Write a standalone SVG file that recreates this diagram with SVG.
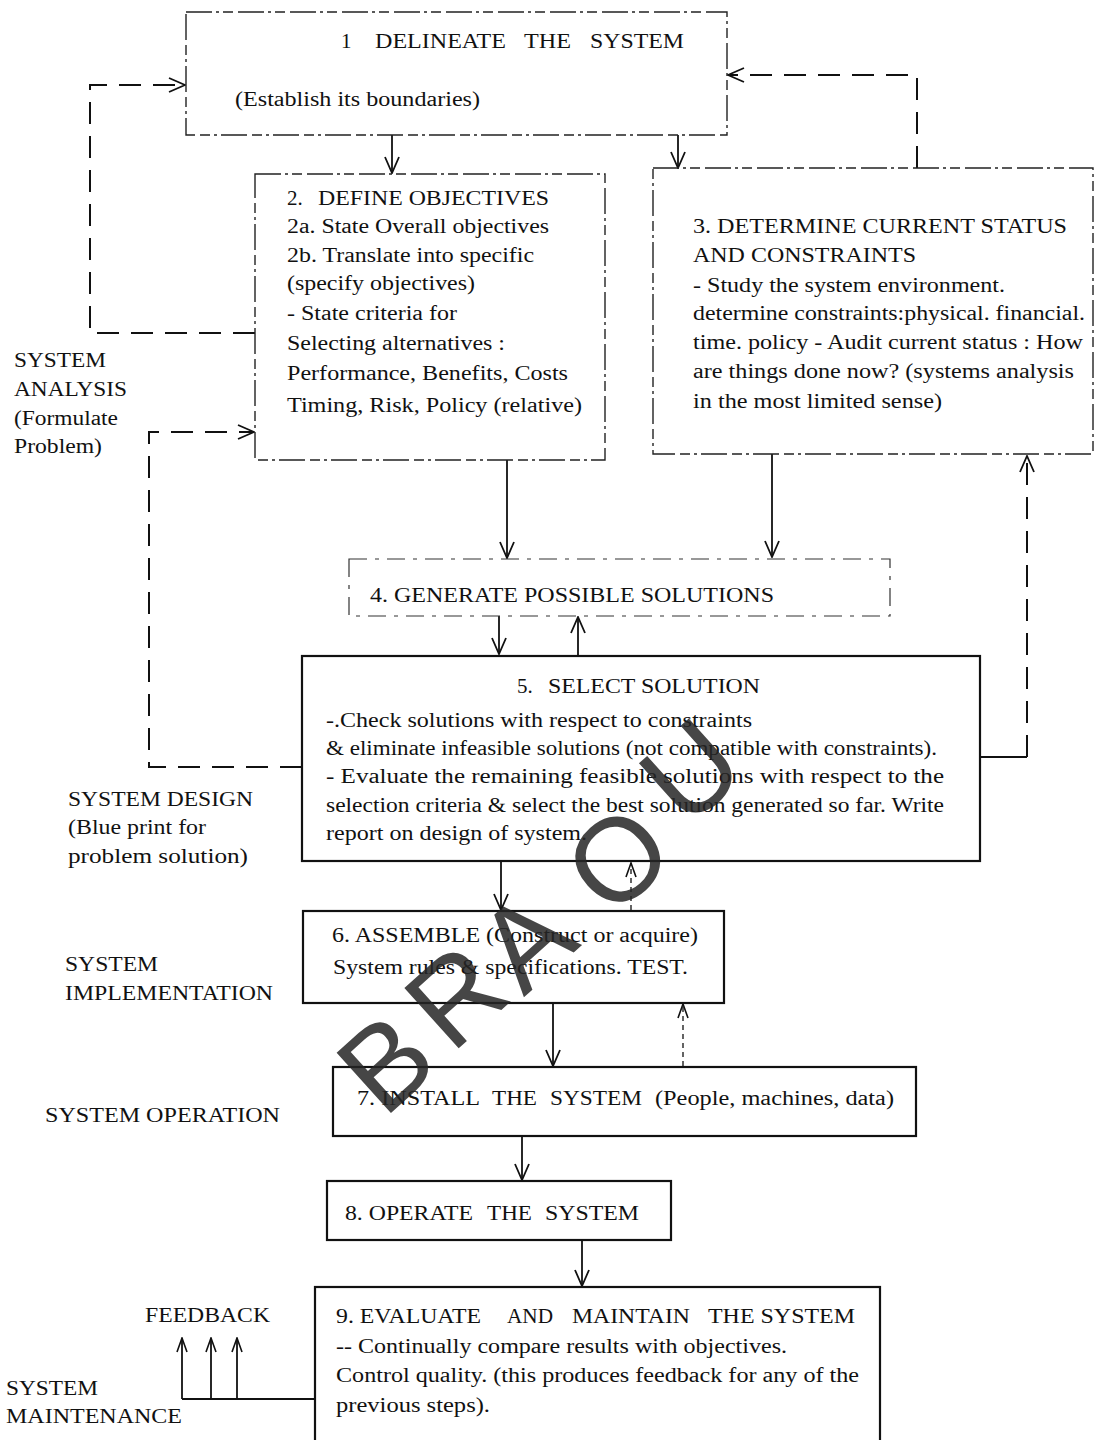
<svg xmlns="http://www.w3.org/2000/svg" width="1095" height="1440" viewBox="0 0 1095 1440">
<style>
.t{font-family:"Liberation Serif","Times New Roman",serif;font-size:20px;fill:#111}
.h{font-size:21px}
.dbox{fill:none;stroke:#222;stroke-width:1.4;stroke-dasharray:26 4 3 4 10 5}
.fbox{fill:none;stroke:#333;stroke-width:1.2;stroke-dasharray:18 8 4 8}
.sbox{fill:#fff;stroke:#111;stroke-width:2.2}
.c{fill:none;stroke:#111;stroke-width:1.8}
.dc{fill:none;stroke:#111;stroke-width:2;stroke-dasharray:22 12}
.tc{fill:none;stroke:#111;stroke-width:1.3;stroke-dasharray:5 4}
.wm{font-family:"Liberation Sans",Arial,sans-serif;font-size:118px;fill:#262626;opacity:0.85;text-anchor:middle}
</style>
<defs>
<marker id="ah" viewBox="0 0 18 16" refX="17" refY="8" markerWidth="18" markerHeight="16" markerUnits="userSpaceOnUse" orient="auto">
<path d="M1,1 L17,8 L1,15" fill="none" stroke="#111" stroke-width="1.8"/>
</marker>
<marker id="ahs" viewBox="0 0 16 12" refX="15" refY="6" markerWidth="16" markerHeight="12" markerUnits="userSpaceOnUse" orient="auto">
<path d="M1,1 L15,6 L1,11" fill="none" stroke="#111" stroke-width="1.6"/>
</marker>
</defs>
<rect width="1095" height="1440" fill="#fff"/>

<g id="connectors">
<path class="c" d="M392,135 V173" marker-end="url(#ah)"/>
<path class="c" d="M678,135 V168" marker-end="url(#ah)"/>
<path class="c" d="M507,460 V558" marker-end="url(#ah)"/>
<path class="c" d="M772,454 V557" marker-end="url(#ah)"/>
<path class="c" d="M499,616 V654" marker-end="url(#ah)"/>
<path class="c" d="M578,655 V617" marker-end="url(#ah)"/>
<path class="c" d="M501,861 V910" marker-end="url(#ah)"/>
<path class="tc" d="M631,910 V863" marker-end="url(#ahs)"/>
<path class="c" d="M553,1003 V1066" marker-end="url(#ah)"/>
<path class="tc" d="M683,1066 V1004" marker-end="url(#ahs)"/>
<path class="c" d="M522,1136 V1180" marker-end="url(#ah)"/>
<path class="c" d="M582,1240 V1286" marker-end="url(#ah)"/>
<path class="c" d="M315,1399 H182"/>
<path class="c" d="M182,1399 V1338" marker-end="url(#ahs)"/>
<path class="c" d="M211,1399 V1338" marker-end="url(#ahs)"/>
<path class="c" d="M237,1399 V1338" marker-end="url(#ahs)"/>
<path class="c" d="M980,757 H1027"/>
<path class="dc" d="M1027,757 V456" marker-end="url(#ah)"/>
<path class="dc" d="M255,333 H90 V85 H185" marker-end="url(#ah)"/>
<path class="dc" d="M917,168 V75 H728" marker-end="url(#ah)"/>
<path class="dc" d="M302,767 H149 V432 H254" marker-end="url(#ah)"/>
</g>

<g id="node1">
<rect class="dbox" x="186" y="12" width="541" height="123"/>
<text class="t h" x="341" y="48">1</text>
<text class="t h" x="375" y="48" textLength="131" lengthAdjust="spacingAndGlyphs">DELINEATE</text>
<text class="t h" x="524" y="48" textLength="47" lengthAdjust="spacingAndGlyphs">THE</text>
<text class="t h" x="590" y="48" textLength="94" lengthAdjust="spacingAndGlyphs">SYSTEM</text>
<text class="t" x="235" y="106" textLength="245" lengthAdjust="spacingAndGlyphs">(Establish its boundaries)</text>
</g>

<g id="node2">
<rect class="dbox" x="255" y="174" width="350" height="286"/>
<text class="t h" x="287" y="205">2.</text>
<text class="t h" x="318" y="205" textLength="231" lengthAdjust="spacingAndGlyphs">DEFINE OBJECTIVES</text>
<text class="t" x="287" y="233" textLength="262" lengthAdjust="spacingAndGlyphs">2a. State Overall objectives</text>
<text class="t" x="287" y="262" textLength="247" lengthAdjust="spacingAndGlyphs">2b. Translate into specific</text>
<text class="t" x="287" y="290" textLength="188" lengthAdjust="spacingAndGlyphs">(specify objectives)</text>
<text class="t" x="287" y="320" textLength="170" lengthAdjust="spacingAndGlyphs">- State criteria for</text>
<text class="t" x="287" y="350" textLength="218" lengthAdjust="spacingAndGlyphs">Selecting alternatives :</text>
<text class="t" x="287" y="380" textLength="281" lengthAdjust="spacingAndGlyphs">Performance, Benefits, Costs</text>
<text class="t" x="287" y="412" textLength="295" lengthAdjust="spacingAndGlyphs">Timing, Risk, Policy (relative)</text>
</g>

<g id="node3">
<rect class="dbox" x="653" y="168" width="440" height="286"/>
<text class="t h" x="693" y="233" textLength="374" lengthAdjust="spacingAndGlyphs">3. DETERMINE CURRENT STATUS</text>
<text class="t h" x="693" y="262" textLength="223" lengthAdjust="spacingAndGlyphs">AND CONSTRAINTS</text>
<text class="t" x="693" y="292" textLength="312" lengthAdjust="spacingAndGlyphs">- Study the system environment.</text>
<text class="t" x="693" y="320" textLength="392" lengthAdjust="spacingAndGlyphs">determine constraints:physical. financial.</text>
<text class="t" x="693" y="349" textLength="390" lengthAdjust="spacingAndGlyphs">time. policy - Audit current status : How</text>
<text class="t" x="693" y="378" textLength="381" lengthAdjust="spacingAndGlyphs">are things done now? (systems analysis</text>
<text class="t" x="693" y="408" textLength="249" lengthAdjust="spacingAndGlyphs">in the most limited sense)</text>
</g>

<g id="node4">
<rect class="fbox" x="349" y="559" width="541" height="57"/>
<text class="t" x="370" y="602" textLength="404" lengthAdjust="spacingAndGlyphs">4. GENERATE POSSIBLE SOLUTIONS</text>
</g>

<g id="node5">
<rect class="sbox" x="302" y="656" width="678" height="205"/>
<text class="t h" x="517" y="693">5.</text>
<text class="t h" x="548" y="693" textLength="212" lengthAdjust="spacingAndGlyphs">SELECT SOLUTION</text>
<text class="t" x="326" y="727" textLength="426" lengthAdjust="spacingAndGlyphs">-.Check solutions with respect to constraints</text>
<text class="t" x="326" y="755" textLength="611" lengthAdjust="spacingAndGlyphs">&amp; eliminate infeasible solutions (not compatible with constraints).</text>
<text class="t" x="326" y="783" textLength="618" lengthAdjust="spacingAndGlyphs">- Evaluate the remaining feasible solutions with respect to the</text>
<text class="t" x="326" y="812" textLength="618" lengthAdjust="spacingAndGlyphs">selection criteria &amp; select the best solution generated so far.  Write</text>
<text class="t" x="326" y="840" textLength="261" lengthAdjust="spacingAndGlyphs">report on design of system.</text>
</g>

<g id="node6">
<rect class="sbox" x="303" y="911" width="421" height="92"/>
<text class="t" x="332" y="942" textLength="366" lengthAdjust="spacingAndGlyphs">6. ASSEMBLE (Construct or acquire)</text>
<text class="t" x="333" y="974" textLength="355" lengthAdjust="spacingAndGlyphs">System rules &amp; specifications. TEST.</text>
</g>

<g id="node7">
<rect class="sbox" x="333" y="1067" width="583" height="69"/>
<text class="t" x="357" y="1105" textLength="123" lengthAdjust="spacingAndGlyphs">7. INSTALL</text>
<text class="t" x="492" y="1105" textLength="45" lengthAdjust="spacingAndGlyphs">THE</text>
<text class="t" x="550" y="1105" textLength="92" lengthAdjust="spacingAndGlyphs">SYSTEM</text>
<text class="t" x="655" y="1105" textLength="239" lengthAdjust="spacingAndGlyphs">(People, machines, data)</text>
</g>

<g id="node8">
<rect class="sbox" x="327" y="1181" width="344" height="59"/>
<text class="t" x="345" y="1220" textLength="128" lengthAdjust="spacingAndGlyphs">8. OPERATE</text>
<text class="t" x="487" y="1220" textLength="45" lengthAdjust="spacingAndGlyphs">THE</text>
<text class="t" x="545" y="1220" textLength="94" lengthAdjust="spacingAndGlyphs">SYSTEM</text>
</g>

<g id="node9">
<rect class="sbox" x="315" y="1287" width="565" height="170"/>
<text class="t" x="336" y="1323" textLength="145" lengthAdjust="spacingAndGlyphs">9. EVALUATE</text>
<text class="t" x="507" y="1323" textLength="46" lengthAdjust="spacingAndGlyphs">AND</text>
<text class="t" x="572" y="1323" textLength="118" lengthAdjust="spacingAndGlyphs">MAINTAIN</text>
<text class="t" x="708" y="1323" textLength="147" lengthAdjust="spacingAndGlyphs">THE SYSTEM</text>
<text class="t" x="336" y="1353" textLength="451" lengthAdjust="spacingAndGlyphs">-- Continually compare results with objectives.</text>
<text class="t" x="336" y="1382" textLength="523" lengthAdjust="spacingAndGlyphs">Control quality. (this produces feedback for any of the</text>
<text class="t" x="336" y="1412" textLength="154" lengthAdjust="spacingAndGlyphs">previous steps).</text>
</g>

<g id="labels">
<text class="t" x="14" y="367" textLength="92" lengthAdjust="spacingAndGlyphs">SYSTEM</text>
<text class="t" x="14" y="396" textLength="113" lengthAdjust="spacingAndGlyphs">ANALYSIS</text>
<text class="t" x="14" y="425" textLength="104" lengthAdjust="spacingAndGlyphs">(Formulate</text>
<text class="t" x="14" y="453" textLength="88" lengthAdjust="spacingAndGlyphs">Problem)</text>
<text class="t" x="68" y="806" textLength="185" lengthAdjust="spacingAndGlyphs">SYSTEM DESIGN</text>
<text class="t" x="68" y="834" textLength="138" lengthAdjust="spacingAndGlyphs">(Blue print for</text>
<text class="t" x="68" y="863" textLength="180" lengthAdjust="spacingAndGlyphs">problem solution)</text>
<text class="t" x="65" y="971" textLength="93" lengthAdjust="spacingAndGlyphs">SYSTEM</text>
<text class="t" x="65" y="1000" textLength="208" lengthAdjust="spacingAndGlyphs">IMPLEMENTATION</text>
<text class="t" x="45" y="1122" textLength="235" lengthAdjust="spacingAndGlyphs">SYSTEM OPERATION</text>
<text class="t" x="145" y="1322" textLength="125" lengthAdjust="spacingAndGlyphs">FEEDBACK</text>
<text class="t" x="6" y="1395" textLength="92" lengthAdjust="spacingAndGlyphs">SYSTEM</text>
<text class="t" x="6" y="1423" textLength="176" lengthAdjust="spacingAndGlyphs">MAINTENANCE</text>
</g>

<g id="watermark">
<text class="wm" transform="translate(385,1062) rotate(-42)" x="0" y="42">B</text>
<text class="wm" transform="translate(455,995) rotate(-42)" x="0" y="42">R</text>
<text class="wm" transform="translate(525,940) rotate(-42)" x="0" y="42">A</text>
<text class="wm" transform="translate(617,858) rotate(-42)" x="0" y="42">O</text>
<text class="wm" transform="translate(690,770) rotate(-42)" x="0" y="42">U</text>
</g>
</svg>
